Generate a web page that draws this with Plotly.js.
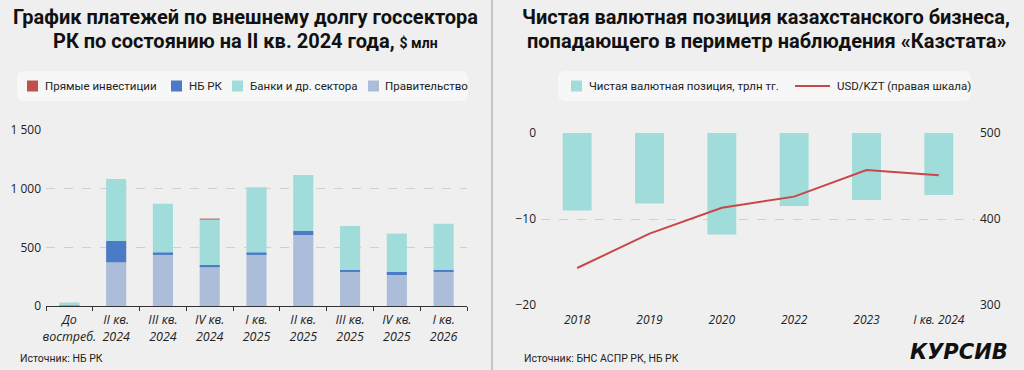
<!DOCTYPE html>
<html><head><meta charset="utf-8">
<script src="https://cdn.plot.ly/plotly-3.0.1.min.js"></script>
<style>html,body{margin:0;padding:0;background:#efefef;}#chart{width:1024px;height:370px;}</style>
</head><body><div id="chart"></div>
<script>
// ---- Left chart data ($ млн) ----
const leftCategories = ['До<br>востреб.', 'II кв.<br>2024', 'III кв.<br>2024', 'IV кв.<br>2024', 'I кв.<br>2025', 'II кв.<br>2025', 'III кв.<br>2025', 'IV кв.<br>2025', 'I кв.<br>2026'];
const government = [4, 372, 435, 330, 435, 605, 290, 264, 290];
const nationalBank = [6, 182, 23, 20, 23, 34, 20, 26, 20];
const banksOther = [20, 529, 414, 386, 554, 478, 372, 327, 392];
const directInvestment = [0, 0, 0, 9, 0, 0, 0, 0, 0];
const leftTickVals = [0, 500, 1000, 1500];
const leftTickText = ['0', '500', '1 000', '1 500'];

// ---- Right chart data ----
const rightCategories = ['2018', '2019', '2020', '2022', '2023', 'I кв. 2024'];
const netFxPosition = [-9.0, -8.2, -11.8, -8.5, -7.8, -7.2];   // трлн тг.
const usdKzt = [343, 383, 413, 426, 457, 451];                   // правая шкала
const rightTickVals = [-20, -10, 0];
const rightTickText = ['−20', '−10', '0'];
const right2TickVals = [300, 400, 500];

const W = 1024, H = 370;
const px = v => v / W;
const py = v => 1 - v / H;
const FONT = 'Open Sans, sans-serif';
const TFONT = 'Roboto, sans-serif';

const C = {gov: '#abbdd8', nb: '#4a7bc4', banks: '#a0dcda', direct: '#c0504d', line: '#c9474a'};

function roundRect(x0, y0, x1, y1, r) {
  const X = v => px(v).toFixed(5), Y = v => py(v).toFixed(5);
  return `M ${X(x0 + r)} ${Y(y0)} L ${X(x1 - r)} ${Y(y0)} Q ${X(x1)} ${Y(y0)} ${X(x1)} ${Y(y0 + r)} ` +
    `L ${X(x1)} ${Y(y1 - r)} Q ${X(x1)} ${Y(y1)} ${X(x1 - r)} ${Y(y1)} L ${X(x0 + r)} ${Y(y1)} ` +
    `Q ${X(x0)} ${Y(y1)} ${X(x0)} ${Y(y1 - r)} L ${X(x0)} ${Y(y0 + r)} Q ${X(x0)} ${Y(y0)} ${X(x0 + r)} ${Y(y0)} Z`;
}

const traces = [
  {type: 'bar', name: 'Правительство', x: leftCategories, y: government, marker: {color: C.gov}, width: 0.43, xaxis: 'x', yaxis: 'y'},
  {type: 'bar', name: 'НБ РК', x: leftCategories, y: nationalBank, marker: {color: C.nb}, width: 0.43, xaxis: 'x', yaxis: 'y'},
  {type: 'bar', name: 'Банки и др. сектора', x: leftCategories, y: banksOther, marker: {color: C.banks}, width: 0.43, xaxis: 'x', yaxis: 'y'},
  {type: 'bar', name: 'Прямые инвестиции', x: leftCategories, y: directInvestment, marker: {color: C.direct}, width: 0.43, xaxis: 'x', yaxis: 'y'},
  {type: 'bar', name: 'Чистая валютная позиция, трлн тг.', x: rightCategories, y: netFxPosition, marker: {color: C.banks}, width: 0.4, xaxis: 'x2', yaxis: 'y2'},
  {type: 'scatter', mode: 'lines', name: 'USD/KZT (правая шкала)', x: rightCategories, y: usdKzt, line: {color: C.line, width: 2}, xaxis: 'x2', yaxis: 'y3'}
];

// manual legends (positions in px)
const legendLeft = [
  {name: 'Прямые инвестиции', color: C.direct, sx: 27, tx: 43},
  {name: 'НБ РК', color: C.nb, sx: 171, tx: 187},
  {name: 'Банки и др. сектора', color: C.banks, sx: 232, tx: 248},
  {name: 'Правительство', color: C.gov, sx: 368, tx: 383}
];
const LFONT = {family: TFONT, size: 11.5, color: '#222'};

const tickFont = {family: FONT, size: 12, color: '#222'};
const shapes = [
  {type: 'path', xref: 'paper', yref: 'paper', path: roundRect(17, 71, 468, 101, 8), fillcolor: '#f7f7f7', line: {width: 0}, layer: 'below'},
  {type: 'path', xref: 'paper', yref: 'paper', path: roundRect(558, 71, 971, 101, 8), fillcolor: '#f7f7f7', line: {width: 0}, layer: 'below'},
  {type: 'line', xref: 'paper', yref: 'paper', x0: px(492), x1: px(492), y0: 0, y1: 1, line: {color: '#9a9a9a', width: 1}},
  {type: 'rect', xref: 'paper', yref: 'paper', x0: px(571), x1: px(582), y0: py(80.5), y1: py(91.5), fillcolor: C.banks, line: {width: 0}},
  {type: 'line', xref: 'paper', yref: 'paper', x0: px(795), x1: px(830), y0: py(86), y1: py(86), line: {color: C.line, width: 2}}
];
function title(x, y, text) {
  return {xref: 'paper', yref: 'paper', x: px(x), y: py(y), xanchor: 'center', yanchor: 'middle', showarrow: false,
    text: '<b>' + text + '</b>', font: {family: TFONT, size: 20, color: '#111'}};
}
const annotations = [
  title(245, 17, 'График платежей по внешнему долгу госсектора'),
  title(245, 41, 'РК по состоянию на II кв. 2024 года, <span style="font-size:14px">$ млн</span>'),
  title(766, 17, 'Чистая валютная позиция казахстанского бизнеса,'),
  title(766, 41, 'попадающего в периметр наблюдения «Казстата»'),
  {xref: 'paper', yref: 'paper', x: px(18), y: py(358), xanchor: 'left', yanchor: 'middle', showarrow: false,
    text: 'Источник: НБ РК', font: {family: TFONT, size: 10.5, color: '#222'}},
  {xref: 'paper', yref: 'paper', x: px(522), y: py(358), xanchor: 'left', yanchor: 'middle', showarrow: false,
    text: 'Источник: БНС АСПР РК, НБ РК', font: {family: TFONT, size: 10.5, color: '#222'}},
  {xref: 'paper', yref: 'paper', x: px(1010), y: py(352), xanchor: 'right', yanchor: 'middle', showarrow: false,
    text: '<b><i>КУРСИВ</i></b>', font: {family: 'DejaVu Sans, sans-serif', size: 21, color: '#111'}},
  {xref: 'paper', yref: 'paper', x: px(587), y: py(86), xanchor: 'left', yanchor: 'middle', showarrow: false,
    text: traces[4].name, font: LFONT},
  {xref: 'paper', yref: 'paper', x: px(835), y: py(86), xanchor: 'left', yanchor: 'middle', showarrow: false,
    text: traces[5].name, font: LFONT}
];
legendLeft.forEach(it => {
  shapes.push({type: 'rect', xref: 'paper', yref: 'paper', x0: px(it.sx), x1: px(it.sx + 11), y0: py(80.5), y1: py(91.5), fillcolor: it.color, line: {width: 0}});
  annotations.push({xref: 'paper', yref: 'paper', x: px(it.tx), y: py(86), xanchor: 'left', yanchor: 'middle', showarrow: false,
    text: it.name, font: LFONT});
});

const layout = {
  width: W, height: H,
  margin: {l: 0, r: 0, t: 0, b: 0},
  paper_bgcolor: '#efefef', plot_bgcolor: 'rgba(0,0,0,0)',
  barmode: 'relative',
  showlegend: false,
  font: {family: FONT, size: 12, color: '#222'},
  xaxis: {domain: [px(46), px(467)], anchor: 'y', type: 'category', showline: true, linecolor: '#333', linewidth: 1.3,
    ticks: 'outside', tickson: 'boundaries', ticklen: 4, tickcolor: '#333', showgrid: false, tickangle: 0,
    tickfont: {family: FONT, size: 12.5, color: '#222', style: 'italic'}, ticklabelstandoff: 2},
  yaxis: {domain: [py(306), py(130)], anchor: 'x', range: [0, 1500], tickvals: leftTickVals, ticktext: leftTickText,
    showgrid: true, gridcolor: '#cfcfcf', griddash: 'dash', gridwidth: 1, zeroline: false, showline: false, ticks: '',
    tickfont: tickFont, ticklabelstandoff: 4},
  xaxis2: {domain: [px(541), px(975)], anchor: 'y2', type: 'category', showline: false, ticks: '', showgrid: false, tickangle: 0,
    tickfont: {family: FONT, size: 12, color: '#222', style: 'italic'}, ticklabelstandoff: 6},
  xaxis3: {overlaying: 'x2', anchor: 'y2', side: 'top', range: [-0.5, 5.5], tickvals: [-0.5, 0.5, 1.5, 2.5, 3.5, 4.5, 5.5],
    showticklabels: false, showline: true, linecolor: '#333', linewidth: 1.3, ticks: 'inside', ticklen: 3, tickcolor: '#333', showgrid: false, zeroline: false},
  yaxis2: {domain: [py(305), py(133)], anchor: 'x2', range: [-20, 0], tickvals: rightTickVals, ticktext: rightTickText,
    showgrid: true, gridcolor: '#cfcfcf', griddash: 'dash', zeroline: false, showline: false, ticks: '', tickfont: tickFont, ticklabelstandoff: 4},
  yaxis3: {overlaying: 'y2', anchor: 'x2', side: 'right', range: [300, 500], tickvals: right2TickVals,
    showgrid: false, zeroline: false, showline: false, ticks: '', tickfont: tickFont, ticklabelstandoff: 4},
  shapes: shapes,
  annotations: annotations
};

Plotly.newPlot('chart', traces, layout, {displayModeBar: false, staticPlot: true});
</script>
</body></html>
